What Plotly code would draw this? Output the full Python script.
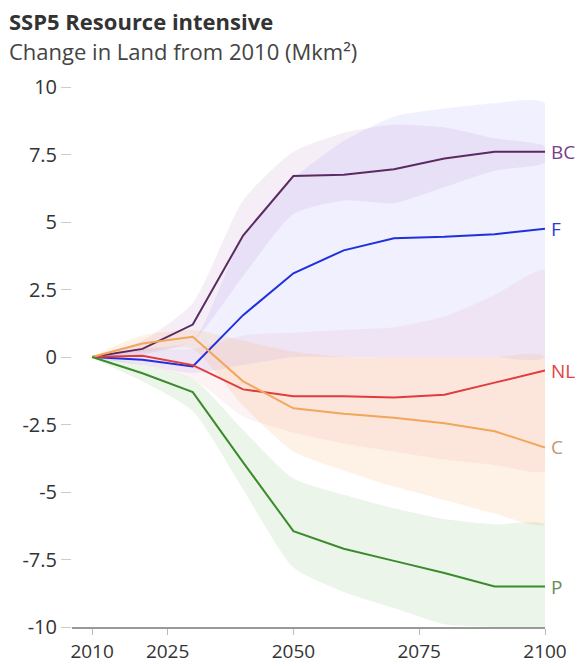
import plotly.graph_objects as go

# Years of the scenario run
years = [2010, 2020, 2030, 2040, 2050, 2060, 2070, 2080, 2090, 2100]

# Median change in land area (Mkm²) per land type
bc = [0, 0.3, 1.2, 4.5, 6.7, 6.75, 6.95, 7.35, 7.6, 7.6]
f = [0, -0.1, -0.35, 1.55, 3.1, 3.95, 4.4, 4.45, 4.55, 4.75]
nl = [0, 0.05, -0.3, -1.2, -1.45, -1.45, -1.5, -1.4, -0.95, -0.5]
c = [0, 0.5, 0.75, -0.9, -1.9, -2.1, -2.25, -2.45, -2.75, -3.35]
p = [0, -0.6, -1.3, -3.9, -6.45, -7.1, -7.55, -8.0, -8.5, -8.5]

# Uncertainty ranges (upper / lower)
bc_hi = [0, 0.6, 2.0, 5.8, 7.6, 8.3, 8.6, 8.5, 8.1, 7.8]
bc_lo = [0, 0.1, 0.6, 3.0, 5.3, 5.8, 5.7, 6.3, 6.9, 7.2]
f_hi = [0, 0.3, 0.6, 4.5, 6.6, 8.0, 8.9, 9.2, 9.4, 9.4]
f_lo = [0, -0.3, -0.6, -0.3, 0, 0, 0, 0, 0, 0]
nl_hi = [0, 0.3, 0.3, 0.8, 0.9, 1.0, 1.1, 1.5, 2.3, 3.2]
nl_lo = [0, -0.3, -0.8, -2.2, -2.8, -3.2, -3.5, -3.8, -4.0, -4.2]
c_hi = [0, 0.8, 1.0, 0.6, 0.2, 0, 0, 0, 0, 0]
c_lo = [0, 0.2, 0.3, -1.8, -3.5, -4.2, -4.8, -5.3, -5.8, -6.2]
p_hi = [0, -0.3, -0.8, -2.7, -4.5, -5.1, -5.6, -6.0, -6.2, -6.2]
p_lo = [0, -0.9, -2.0, -4.9, -7.8, -8.7, -9.3, -9.9, -10, -10]

labels = ["BC", "F", "NL", "C", "P"]
line_colors = ["#5c2a63", "#2030dd", "#e23b3b", "#f2a65a", "#3c8a2e"]
label_colors = ["#7a3d8a", "#2a3ad8", "#e84040", "#c09a72", "#6a8a5a"]
band_colors = [
    "rgba(140,70,150,0.09)",
    "rgba(110,110,245,0.10)",
    "rgba(235,110,130,0.09)",
    "rgba(250,160,90,0.15)",
    "rgba(90,170,70,0.12)",
]

medians = [bc, f, nl, c, p]
highs = [bc_hi, f_hi, nl_hi, c_hi, p_hi]
lows = [bc_lo, f_lo, nl_lo, c_lo, p_lo]

font_family = "'Open Sans', Lato, sans-serif"

fig = go.Figure()

for hi, lo, col in zip(highs, lows, band_colors):
    fig.add_trace(go.Scatter(
        x=years + years[::-1],
        y=hi + lo[::-1],
        fill="toself",
        fillcolor=col,
        line=dict(width=0, shape="spline", smoothing=0.6),
        mode="lines",
        hoverinfo="skip",
        showlegend=False,
    ))

for med, col in zip(medians, line_colors):
    fig.add_trace(go.Scatter(
        x=years, y=med, mode="lines",
        line=dict(color=col, width=2),
        showlegend=False,
    ))

for name, med, col in zip(labels, medians, label_colors):
    fig.add_annotation(
        x=years[-1], y=med[-1], text=name, showarrow=False,
        xanchor="left", yanchor="middle", xshift=4,
        font=dict(family=font_family, size=19, color=col),
    )

fig.add_annotation(
    xref="paper", yref="paper", x=-0.137, y=1.122,
    text="<b>SSP5 Resource intensive</b>", showarrow=False,
    xanchor="left", yanchor="middle",
    font=dict(family=font_family, size=22, color="#333333"),
)
fig.add_annotation(
    xref="paper", yref="paper", x=-0.137, y=1.066,
    text="Change in Land from 2010 (Mkm²)", showarrow=False,
    xanchor="left", yanchor="middle",
    font=dict(family=font_family, size=22, color="#444444"),
)

fig.update_layout(
    width=580, height=666,
    margin=dict(l=72, r=35, t=87, b=39, autoexpand=False),
    plot_bgcolor="white", paper_bgcolor="white",
    font=dict(family=font_family, color="#333333"),
)
fig.update_xaxes(
    range=[2006, 2100], automargin=False,
    tickvals=[2010, 2025, 2050, 2075, 2100],
    ticks="outside", ticklen=6, tickcolor="#bbbbbb",
    showline=True, linecolor="#999999", linewidth=2,
    showgrid=False, zeroline=False,
    tickfont=dict(size=19, color="#333333"),
)
fig.update_yaxes(
    range=[-10, 10], automargin=False,
    tickvals=[10, 7.5, 5, 2.5, 0, -2.5, -5, -7.5, -10],
    ticktext=["10", "7.5", "5", "2.5", "0", "-2.5", "-5", "-7.5", "-10"],
    ticks="outside", ticklen=10, tickcolor="#cccccc",
    showline=False, showgrid=False, zeroline=False,
    tickfont=dict(size=20, color="#333333"),
)

fig.write_html("out.html")
